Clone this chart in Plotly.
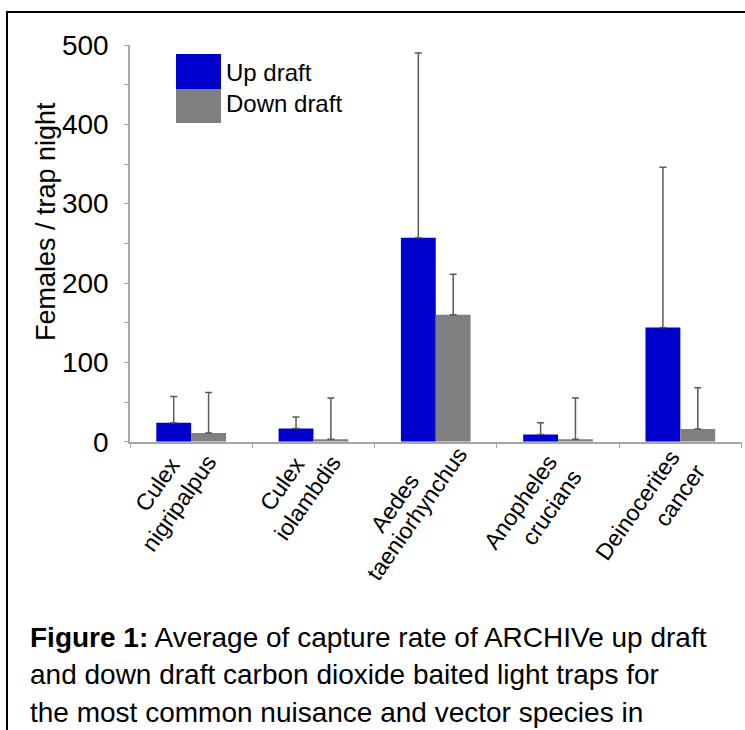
import plotly.graph_objects as go

# Species and mean females per trap night (with upper standard deviation)
species = [
    "Culex nigripalpus",
    "Culex iolambdis",
    "Aedes taeniorhynchus",
    "Anopheles crucians",
    "Deinocerites cancer",
]
up_draft = [24, 16.5, 257, 9, 144]
up_draft_sd = [33, 14.5, 233, 15, 202]
down_draft = [11, 3, 160, 3, 16]
down_draft_sd = [51, 52, 51, 52, 52]

y_ticks = [0, 100, 200, 300, 400, 500]

W, H = 745, 730
BLUE = "#0000CC"
GREY = "#808080"
ERR = "#5a5a5a"
AXIS = "#a6a6a6"
FONT = "Liberation Sans, Arial, sans-serif"
LABEL_ANGLE = -55
LABEL_SIZE = 23
# pixel position (relative to category centre / from top) of the end of
# each rotated label line: genus line, then species line
GENUS_END = [(-15, 455), (-13, 455), (-21, 471), (-5, 452), (-5, 447)]
SPECIES_END = [(21, 452), (23, 453), (27, 445), (20, 467), (20, 462)]


def px(x):
    return x / W


def py(y):
    return (H - y) / H


fig = go.Figure()
fig.add_trace(go.Bar(
    x=species, y=up_draft, name="Up draft", marker_color=BLUE,
    marker_line_width=0,
    error_y=dict(type="data", symmetric=False, array=up_draft_sd,
                 arrayminus=[0] * len(up_draft), color=ERR,
                 thickness=1.5, width=3.5),
))
fig.add_trace(go.Bar(
    x=species, y=down_draft, name="Down draft", marker_color=GREY,
    marker_line_width=0,
    error_y=dict(type="data", symmetric=False, array=down_draft_sd,
                 arrayminus=[0] * len(down_draft), color=ERR,
                 thickness=1.5, width=3.5),
))

# Legend block: stacked colour swatches with labels
shapes = [
    dict(type="rect", xref="paper", yref="paper",
         x0=px(176), x1=px(221), y0=py(89), y1=py(54),
         fillcolor=BLUE, line_width=0),
    dict(type="rect", xref="paper", yref="paper",
         x0=px(176), x1=px(221), y0=py(123), y1=py(89),
         fillcolor=GREY, line_width=0),
    # figure frame
    dict(type="rect", xref="paper", yref="paper",
         x0=px(7), x1=1.05, y0=-0.05, y1=py(12),
         line=dict(color="black", width=2), fillcolor="rgba(0,0,0,0)"),
]

annotations = [
    dict(text="Up draft", x=px(224), y=py(73), xref="paper", yref="paper",
         xanchor="left", yanchor="middle", showarrow=False,
         font=dict(size=24, color="black", family=FONT)),
    dict(text="Down draft", x=px(224), y=py(104), xref="paper", yref="paper",
         xanchor="left", yanchor="middle", showarrow=False,
         font=dict(size=24, color="black", family=FONT)),
    dict(text="Females / trap night", x=px(46), y=py(222), xref="paper",
         yref="paper", xanchor="center", yanchor="middle", showarrow=False,
         textangle=-90, font=dict(size=27, color="black", family=FONT)),
]

# Rotated two-line category labels; each line is pinned by its upper end
# (the rotated box's top-right corner sits just beyond the glyph tip)
for i, name in enumerate(species):
    genus, epithet = name.split(" ", 1)
    for text, (dx, ty) in ((genus, GENUS_END[i]), (epithet, SPECIES_END[i])):
        annotations.append(dict(
            text=text, x=name, xref="x", y=py(ty - 5), yref="paper",
            xanchor="right", yanchor="top", xshift=dx + 12, showarrow=False,
            textangle=LABEL_ANGLE,
            font=dict(size=LABEL_SIZE, color="black", family=FONT),
        ))

caption_lines = [
    "<b>Figure 1:</b> Average of capture rate of ARCHIVe up draft",
    "and down draft carbon dioxide baited light traps for",
    "the most common nuisance and vector species in",
]
for i, line in enumerate(caption_lines):
    annotations.append(dict(
        text=line, x=px(28), y=py(637 + 37.5 * i), xref="paper", yref="paper",
        xanchor="left", yanchor="middle", showarrow=False,
        font=dict(size=28, color="black", family=FONT),
    ))

fig.update_layout(
    width=W, height=H,
    margin=dict(l=0, r=0, t=0, b=0),
    paper_bgcolor="white", plot_bgcolor="white",
    barmode="group", bargap=0.43, bargroupgap=0,
    showlegend=False,
    shapes=shapes, annotations=annotations,
    font=dict(family=FONT, color="black"),
    xaxis=dict(
        domain=[px(130), px(741.5)],
        range=[-0.5, len(species) - 0.5], autorange=False,
        showline=True, linecolor=AXIS, linewidth=1.5,
        ticks="outside", tickson="boundaries", ticklen=5, tickcolor=AXIS,
        showticklabels=False,
        showgrid=False, automargin=False,
    ),
    yaxis=dict(
        domain=[py(441.7), py(45)],
        range=[0, 500], tickvals=y_ticks,
        showline=True, linecolor=AXIS, linewidth=1.5,
        ticks="outside", ticklen=4, tickcolor=AXIS,
        minor=dict(dtick=50, ticks="outside", ticklen=4, tickcolor=AXIS),
        tickfont=dict(size=28, family=FONT, color="black"),
        ticklabelstandoff=10,
        showgrid=False, zeroline=False, automargin=False,
    ),
)

fig.write_html("out.html")
